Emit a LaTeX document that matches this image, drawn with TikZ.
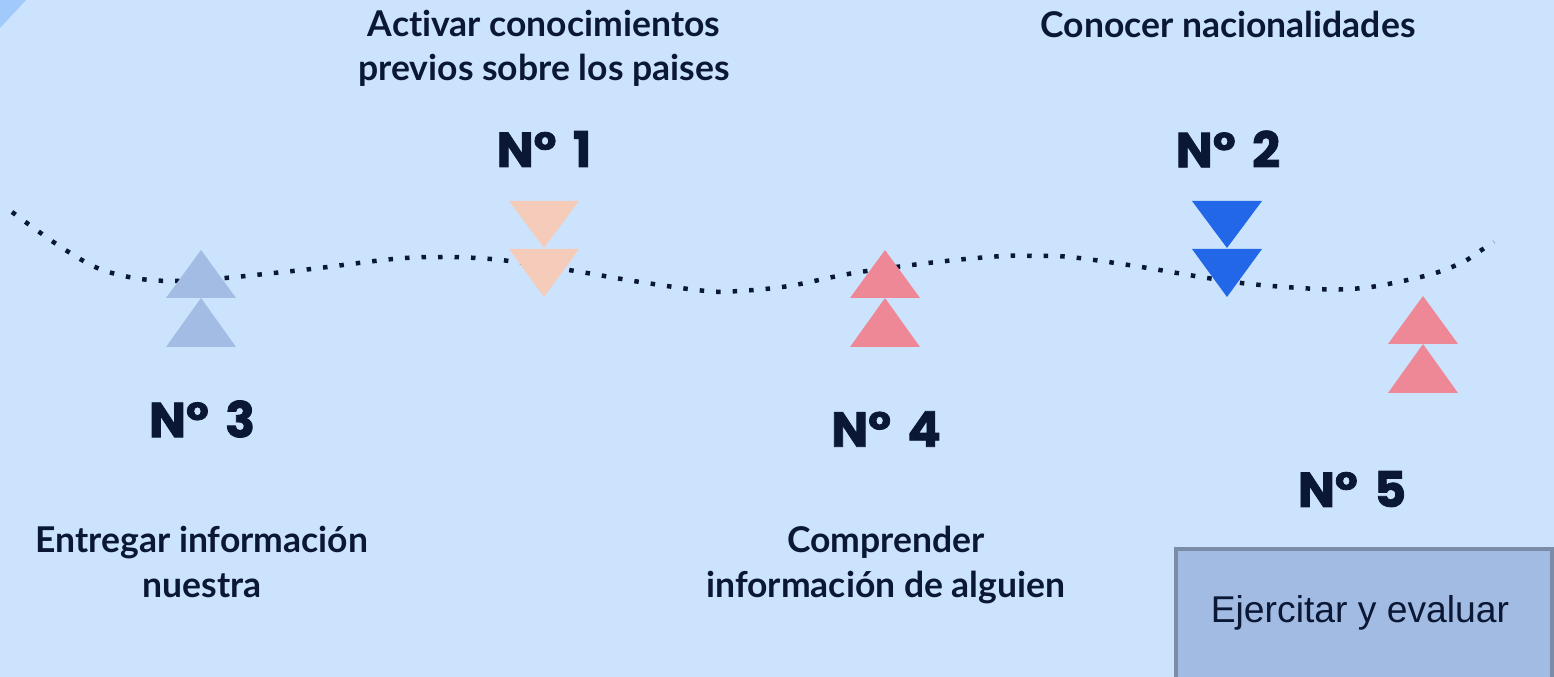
\documentclass[tikz,border=0pt]{standalone}
\usepackage{fontspec}
\setmainfont{Lato}[Ligatures=NoCommon]
\newfontfamily\numfont{Poppins}[BoldFeatures={FakeBold=1.6}]
\newfontfamily\boxfont{Liberation Sans}
\usetikzlibrary{positioning}

\definecolor{bgblue}{HTML}{CCE3FD}
\definecolor{cornerblue}{HTML}{A1C9FB}
\definecolor{ink}{HTML}{0A1735}
\definecolor{greyblue}{HTML}{A3BCE3}
\definecolor{peach}{HTML}{F5CCB9}
\definecolor{rose}{HTML}{EE8896}
\definecolor{royal}{HTML}{2167E8}
\definecolor{boxfill}{HTML}{A2BBE2}
\definecolor{boxline}{HTML}{7B8CA8}

\tikzstyle{goal}=[text=ink, align=center, inner sep=0pt, font=\bfseries\fontsize{10.1}{12.6}\selectfont]
\tikzstyle{stage}=[text=ink, inner sep=0pt, font=\numfont\bfseries\fontsize{14}{16}\selectfont]
\tikzstyle{task}=[draw=boxline, line width=0.04cm, fill=boxfill]
\tikzstyle{path}=[ink, line width=0.045cm, dash pattern=on 0.045cm off 0.12cm]

% pair of triangles, apex up / apex down
\newcommand{\uppair}[3]{%
  \fill[#3] (#1-35,#2+48) -- (#1,#2) -- (#1+35,#2+48) -- cycle;
  \fill[#3] (#1-35,#2+97) -- (#1,#2+48) -- (#1+35,#2+97) -- cycle;}
\newcommand{\downpair}[3]{%
  \fill[#3] (#1-35,#2) -- (#1,#2+47) -- (#1+35,#2) -- cycle;
  \fill[#3] (#1-35,#2+48) -- (#1,#2+96) -- (#1+35,#2+48) -- cycle;}

\begin{document}
\begin{tikzpicture}[x=0.01cm, y=-0.01cm]
    \useasboundingbox (0,0) rectangle (1554,677);
    \clip (0,0) rectangle (1554,677);
    \fill[bgblue] (0,0) rectangle (1554,677);
    \fill[cornerblue] (0,0) -- (26,0) -- (0,28) -- cycle;

    \draw[path] plot[smooth, tension=0.6] coordinates {(12,212) (67,251) (112,273) (178,281) (293,271)
        (393,259) (443,257) (476,258) (509,261) (575,271) (640,282) (706,291) (739,291) (789,286)
        (854,273) (937,262) (1003,256) (1036,256) (1070,257) (1135,266) (1201,277) (1250,284)
        (1317,289) (1350,289) (1383,285) (1432,274) (1463,262) (1480,251) (1494,242)};

    \uppair{201}{250}{greyblue}
    \downpair{544}{201}{peach}
    \uppair{885}{250}{rose}
    \downpair{1227}{201}{royal}
    \uppair{1423}{296}{rose}

    \node[stage] (n1) at (544,149) {N°\,\,1};
    \node[stage] (n2) at (1228,149) {N°\,\,2};
    \node[stage] (n3) at (202,419) {N°\,\,3};
    \node[stage] (n4) at (886,429) {N°\,\,4};
    \node[stage] (n5) at (1352,489) {N°\,\,5};

    \node[goal] (g1) at (544,48) {Activar conocimientos\\previos sobre los paises};
    \node[goal] (g2) at (1228,24) {Conocer nacionalidades};
    \node[goal] (g3) at (202,562) {Entregar información\\nuestra};
    \node[goal] (g4) at (886,565) {Comprender\\información de alguien};

    \node[task, minimum width=3.76cm, minimum height=1.5cm, anchor=north west] (t5) at (1174,547) {};
    \node[text=ink, font=\boxfont\fontsize{10.6}{12}\selectfont] (t5txt) at (1360,613) {Ejercitar y evaluar};
\end{tikzpicture}
\end{document}
